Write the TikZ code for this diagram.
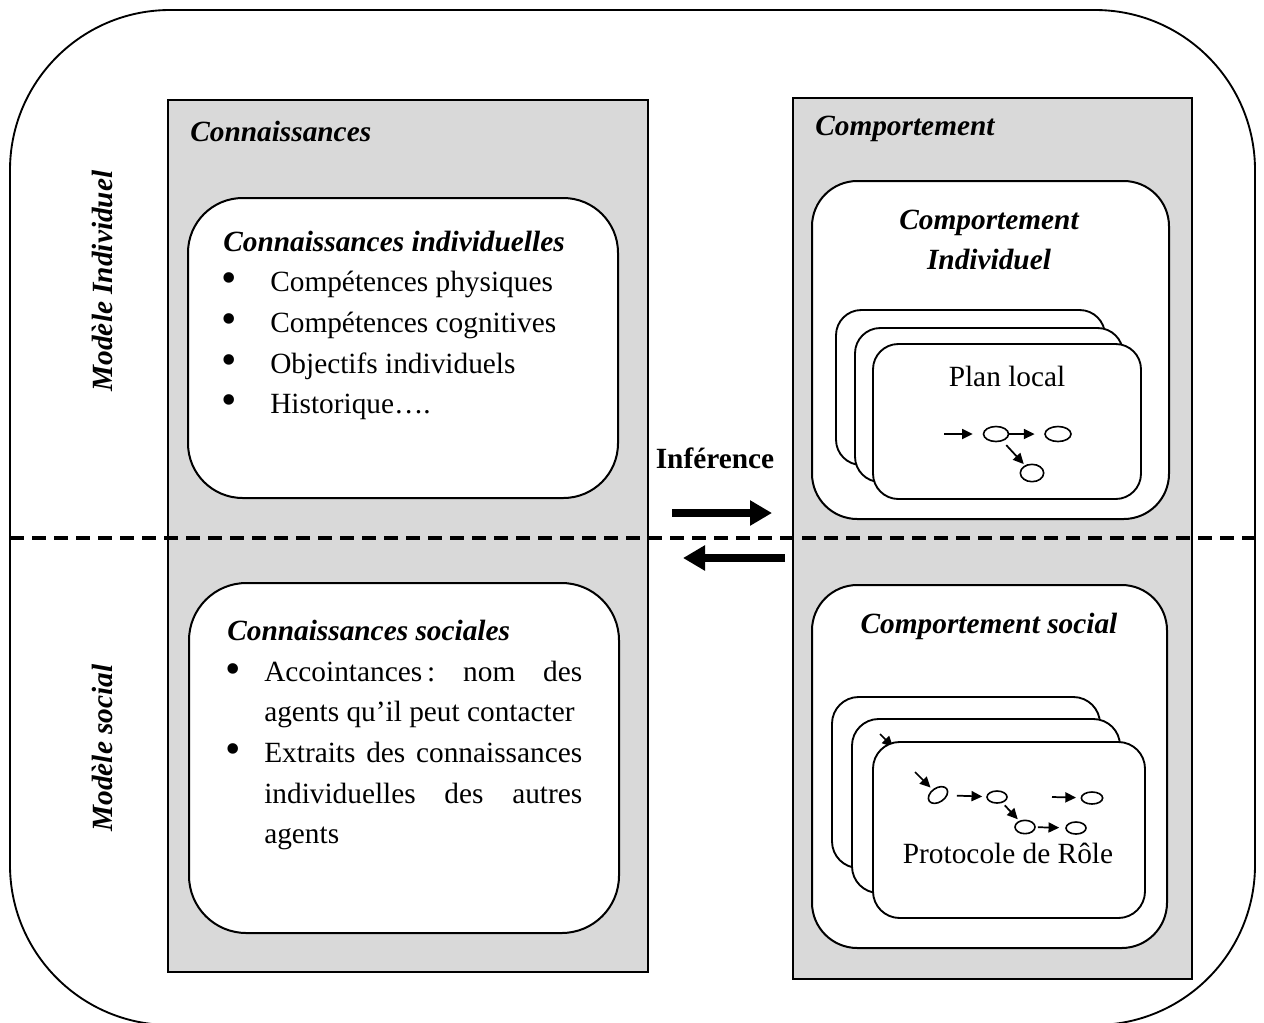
\documentclass[tikz,border=0pt]{standalone}
\usepackage{fontspec}
\setmainfont{Liberation Serif}
\usetikzlibrary{arrows.meta,fit,shapes.geometric}
\definecolor{panelgray}{HTML}{D9D9D9}
\newcommand\bodysize{\fontsize{22pt}{30.5pt}\selectfont}

\begin{document}
\begin{tikzpicture}[x=0.75pt,y=-0.75pt,
  frame/.style={draw, line width=1.4pt, inner sep=0pt, rounded corners=120pt},
  panel/.style={draw, line width=2pt, fill=panelgray, inner sep=0pt},
  section/.style={draw, line width=1.5pt, fill=white, inner sep=0pt},
  card/.style={draw, line width=1.4pt, fill=white, inner sep=0pt, rounded corners=19pt},
  body/.style={font=\bodysize, inner sep=0pt},
  heading/.style={font=\bodysize\bfseries\itshape, inner sep=0pt},
  bul/.style={font=\fontsize{33pt}{33pt}\selectfont, inner sep=0pt},
  st/.style={draw, ellipse, line width=1.2pt, inner sep=0pt, minimum width=18.75pt, minimum height=11.25pt},
  sst/.style={st, minimum width=15pt, minimum height=9pt},
  flow/.style={line width=1.3pt, -{Triangle[length=8pt,width=7.5pt]}},
  bigarrow/.style={line width=6pt, -{Triangle[length=16.5pt,width=18pt]}},
]
\useasboundingbox (0,0) rectangle (1264,1022);

% outer frame
\node[frame, fit={(10,10)(1255,1025)}] (outer) {};

% grey panels
\node[panel, fit={(168,100)(648,972)}] (know) {};
\node[panel, fit={(793,98)(1192,979)}] (behav) {};

% white sections
\node[section, rounded corners=41pt, fit={(188,198)(618,498)}] (kind) {};
\node[section, rounded corners=43pt, fit={(189,583)(619,933)}] (ksoc) {};
\node[section, rounded corners=34pt, fit={(812,181)(1169,519)}] (bind) {};
\node[section, rounded corners=34pt, fit={(812,585)(1167,948)}] (bsoc) {};

% stack of local plans
\node[card, fit={(836,310)(1105,465)}] (planA) {};
\node[card, fit={(855,328)(1123,482)}] (planB) {};
\node[card, fit={(873,344)(1141,499)}] (planC) {};

\node[st] (pe1) at (996,434) {};
\node[st, minimum width=19.5pt] (pe2) at (1058,434) {};
\node[st, minimum width=17.5pt, minimum height=13pt] (pe3) at (1032,473) {};
\coordinate (pin) at (944,434);
\draw[flow, shorten >=7.5pt] (pin) -- (pe1);
\draw[flow, shorten >=7.2pt] (pe1) -- (pe2);
\draw[flow, shorten <=4pt, shorten >=1.2pt] (pe1) -- (pe3);

% stack of role protocols
\node[card, rounded corners=20pt, fit={(832,697)(1100,868)}] (protA) {};
\node[card, rounded corners=20pt, fit={(852,719)(1120,893)}] (protB) {};
\coordinate (hidA) at (880,734);
\coordinate (hidB) at (893,747);
\draw[flow] (hidA) -- (hidB);
\node[card, rounded corners=20pt, fit={(873,742)(1145,918)}] (protC) {};

\node[sst, rotate=35, minimum width=16pt, minimum height=10.5pt] (re1) at (938,795) {};
\node[sst] (re2) at (997,797) {};
\node[sst, minimum width=16pt] (re3) at (1092,798) {};
\node[sst, minimum height=10pt] (re4) at (1025,827) {};
\node[sst] (re5) at (1076,828) {};
\coordinate (rin1) at (915,772);
\coordinate (rin2) at (1052,797);
\draw[flow, shorten >=2pt] (rin1) -- (re1);
\draw[flow, shorten <=7pt, shorten >=3pt] (re1) -- (re2);
\draw[flow, shorten >=3.4pt] (rin2) -- (re3);
\draw[flow, shorten <=2.5pt, shorten >=1.5pt] (re2) -- (re4);
\draw[flow, shorten <=1.5pt, shorten >=4.5pt] (re4) -- (re5);

% boundary between the individual and the social model
\coordinate (divL) at (10,538);
\coordinate (divR) at (1255,538);
\draw[line width=2.6pt, dash pattern=on 10.5pt off 6pt] (divL) -- (divR);

% inference arrows
\coordinate (fwdA) at (672,513);
\coordinate (fwdB) at (772,513);
\coordinate (bwdA) at (785,558);
\coordinate (bwdB) at (683,558);
\draw[bigarrow] (fwdA) -- (fwdB);
\draw[bigarrow] (bwdA) -- (bwdB);
\node[body, font=\bodysize\bfseries, anchor=base] (inf) at (715,468) {Inférence};

% side labels
\node[heading, rotate=90] (mind) at (102,281) {Modèle Individuel};
\node[heading, rotate=90] (msoc) at (102,748) {Modèle social};

% panel titles
\node[heading, anchor=base west] (knowT) at (190,141) {Connaissances};
\node[heading, anchor=base west] (behavT) at (815,135) {Comportement};

% individual knowledge
\node[heading, anchor=base west] (kindT) at (223,251) {Connaissances individuelles};
\node[bul] (kb1) at (229,283) {•};
\node[body, anchor=base west] (k1) at (270,291) {Compétences physiques};
\node[bul] (kb2) at (229,324) {•};
\node[body, anchor=base west] (k2) at (270,332) {Compétences cognitives};
\node[bul] (kb3) at (229,365) {•};
\node[body, anchor=base west] (k3) at (270,373) {Objectifs individuels};
\node[bul] (kb4) at (229,405) {•};
\node[body, anchor=base west] (k4) at (270,413) {Historique….};

% social knowledge
\node[heading, anchor=base west] (ksocT) at (227,640) {Connaissances sociales};
\node[bul] (sb1) at (233,674) {•};
\node[body, anchor=base west] (s1) at (264,681) {\hbox to 238.5pt{Accointances\,:\hfill nom\hfill des}};
\node[body, anchor=base west] (s2) at (264,721) {agents qu’il peut contacter};
\node[bul] (sb2) at (233,754) {•};
\node[body, anchor=base west] (s3) at (264,762) {\hbox to 238.5pt{Extraits\hfill des\hfill connaissances}};
\node[body, anchor=base west] (s4) at (264,803) {\hbox to 238.5pt{individuelles\hfill des\hfill autres}};
\node[body, anchor=base west] (s5) at (264,843) {agents};

% behaviour sections
\node[heading, anchor=base] (bindT1) at (989,229) {Comportement};
\node[heading, anchor=base] (bindT2) at (989,269) {Individuel};
\node[body, anchor=base] (planT) at (1007,386) {Plan local};
\node[heading, anchor=base] (bsocT) at (989,633) {Comportement social};
\node[body, anchor=base] (protT) at (1008,863) {Protocole de Rôle};
\end{tikzpicture}
\end{document}
